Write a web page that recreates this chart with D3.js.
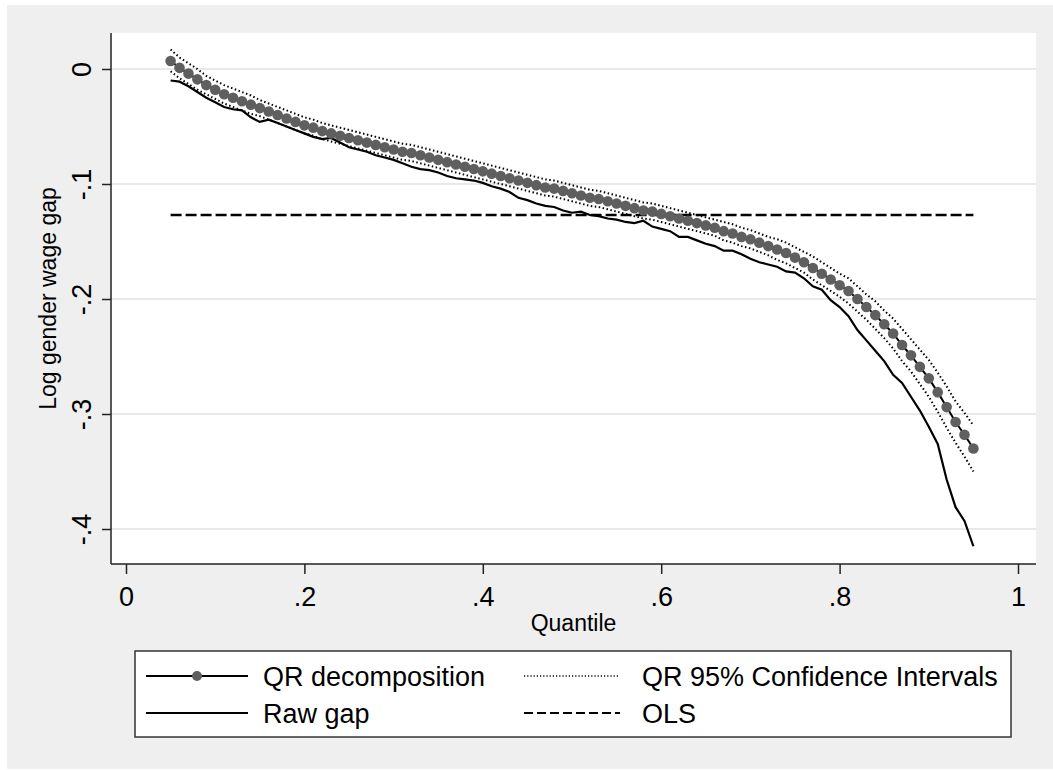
<!DOCTYPE html>
<html>
<head>
<meta charset="utf-8">
<script src="https://cdn.jsdelivr.net/npm/d3@7"></script>
<style>
  body { margin: 0; background: #fff; }
  svg { display: block; font-family: "Liberation Sans", Arial, sans-serif; }
</style>
</head>
<body>
<div id="chart"><svg></svg></div>
<script>
const width = 1053;
const height = 770;

// quantiles .05 ... .95
const quantiles = [0.05, 0.06, 0.07, 0.08, 0.09, 0.10, 0.11, 0.12, 0.13, 0.14,
  0.15, 0.16, 0.17, 0.18, 0.19, 0.20, 0.21, 0.22, 0.23, 0.24,
  0.25, 0.26, 0.27, 0.28, 0.29, 0.30, 0.31, 0.32, 0.33, 0.34,
  0.35, 0.36, 0.37, 0.38, 0.39, 0.40, 0.41, 0.42, 0.43, 0.44,
  0.45, 0.46, 0.47, 0.48, 0.49, 0.50, 0.51, 0.52, 0.53, 0.54,
  0.55, 0.56, 0.57, 0.58, 0.59, 0.60, 0.61, 0.62, 0.63, 0.64,
  0.65, 0.66, 0.67, 0.68, 0.69, 0.70, 0.71, 0.72, 0.73, 0.74,
  0.75, 0.76, 0.77, 0.78, 0.79, 0.80, 0.81, 0.82, 0.83, 0.84,
  0.85, 0.86, 0.87, 0.88, 0.89, 0.90, 0.91, 0.92, 0.93, 0.94, 0.95];

const qrDecomp = [0.007, 0.001, -0.004, -0.009, -0.014, -0.018, -0.022, -0.025, -0.028, -0.031,
  -0.034, -0.037, -0.040, -0.043, -0.046, -0.049, -0.051, -0.054, -0.056, -0.058,
  -0.060, -0.062, -0.064, -0.066, -0.068, -0.070, -0.072, -0.073, -0.075, -0.077,
  -0.079, -0.081, -0.083, -0.085, -0.087, -0.089, -0.091, -0.093, -0.095, -0.097,
  -0.099, -0.101, -0.103, -0.104, -0.106, -0.108, -0.110, -0.112, -0.113, -0.115,
  -0.117, -0.119, -0.121, -0.123, -0.124, -0.126, -0.128, -0.130, -0.132, -0.134,
  -0.136, -0.138, -0.141, -0.143, -0.146, -0.148, -0.151, -0.154, -0.157, -0.160,
  -0.164, -0.168, -0.173, -0.178, -0.183, -0.188, -0.193, -0.200, -0.207, -0.214,
  -0.222, -0.230, -0.240, -0.249, -0.259, -0.269, -0.281, -0.294, -0.307, -0.318, -0.330];

const ciUpper = [0.017, 0.010, 0.005, 0.000, -0.006, -0.010, -0.014, -0.017, -0.020, -0.023,
  -0.027, -0.030, -0.033, -0.036, -0.039, -0.042, -0.044, -0.047, -0.049, -0.051,
  -0.053, -0.055, -0.057, -0.059, -0.061, -0.063, -0.065, -0.066, -0.068, -0.070,
  -0.072, -0.074, -0.076, -0.078, -0.080, -0.082, -0.084, -0.086, -0.088, -0.090,
  -0.092, -0.094, -0.096, -0.097, -0.099, -0.101, -0.103, -0.105, -0.106, -0.108,
  -0.110, -0.112, -0.114, -0.116, -0.117, -0.119, -0.121, -0.123, -0.125, -0.127,
  -0.129, -0.131, -0.133, -0.135, -0.138, -0.140, -0.143, -0.146, -0.148, -0.151,
  -0.155, -0.159, -0.163, -0.168, -0.173, -0.178, -0.182, -0.189, -0.196, -0.202,
  -0.210, -0.217, -0.226, -0.235, -0.244, -0.253, -0.264, -0.276, -0.289, -0.299, -0.310];

const ciLower = [-0.002, -0.008, -0.013, -0.018, -0.022, -0.026, -0.030, -0.033, -0.036, -0.039,
  -0.041, -0.044, -0.047, -0.050, -0.053, -0.056, -0.058, -0.061, -0.063, -0.065,
  -0.067, -0.069, -0.071, -0.073, -0.075, -0.077, -0.079, -0.080, -0.082, -0.084,
  -0.086, -0.088, -0.090, -0.092, -0.094, -0.096, -0.098, -0.100, -0.102, -0.104,
  -0.106, -0.108, -0.110, -0.111, -0.113, -0.115, -0.117, -0.119, -0.120, -0.122,
  -0.124, -0.126, -0.128, -0.130, -0.131, -0.133, -0.135, -0.137, -0.139, -0.141,
  -0.143, -0.145, -0.149, -0.151, -0.154, -0.156, -0.159, -0.162, -0.166, -0.169,
  -0.173, -0.177, -0.183, -0.188, -0.193, -0.198, -0.204, -0.211, -0.218, -0.226,
  -0.234, -0.243, -0.254, -0.263, -0.274, -0.285, -0.298, -0.312, -0.325, -0.337, -0.350];

const rawGap = [-0.010, -0.011, -0.015, -0.020, -0.025, -0.029, -0.033, -0.035, -0.036, -0.042,
  -0.046, -0.044, -0.047, -0.050, -0.053, -0.056, -0.059, -0.061, -0.060, -0.064,
  -0.068, -0.070, -0.072, -0.075, -0.077, -0.079, -0.082, -0.085, -0.087, -0.088,
  -0.090, -0.093, -0.095, -0.096, -0.097, -0.099, -0.102, -0.104, -0.107, -0.112,
  -0.114, -0.117, -0.119, -0.120, -0.123, -0.125, -0.124, -0.127, -0.128, -0.130,
  -0.131, -0.133, -0.134, -0.132, -0.137, -0.139, -0.141, -0.146, -0.146, -0.149,
  -0.152, -0.154, -0.158, -0.158, -0.161, -0.165, -0.168, -0.170, -0.172, -0.176,
  -0.177, -0.182, -0.189, -0.192, -0.201, -0.207, -0.215, -0.227, -0.236, -0.245,
  -0.254, -0.266, -0.273, -0.285, -0.297, -0.311, -0.326, -0.357, -0.381, -0.393, -0.415];

const olsGap = -0.127;

const xTicks = [0, 0.2, 0.4, 0.6, 0.8, 1];
const xTickLabels = ["0", ".2", ".4", ".6", ".8", "1"];
const yTicks = [0, -0.1, -0.2, -0.3, -0.4];
const yTickLabels = ["0", "-.1", "-.2", "-.3", "-.4"];

const legendLabels = ["QR decomposition", "QR 95% Confidence Intervals", "Raw gap", "OLS"];

const svg = d3.select("#chart svg")
    .attr("width", width)
    .attr("height", height);

const plot = { left: 111, right: 1036, top: 33, bottom: 564 };

const xScale = d3.scaleLinear().domain([0, 1]).range([126, 1018]);
const yScale = d3.scaleLinear().domain([0, -0.4]).range([69, 529]);

// background
svg.append("rect")
    .attr("x", 7).attr("y", 5)
    .attr("width", width - 7).attr("height", 764)
    .attr("fill", "#efefef");

svg.append("rect")
    .attr("x", plot.left).attr("y", plot.top)
    .attr("width", plot.right - plot.left).attr("height", plot.bottom - plot.top)
    .attr("fill", "#fff");

// gridlines
svg.append("g")
    .selectAll("line")
    .data(yTicks)
    .enter()
    .append("line")
    .attr("x1", plot.left).attr("x2", plot.right)
    .attr("y1", d => yScale(d)).attr("y2", d => yScale(d))
    .attr("stroke", "#e8e8e8")
    .attr("stroke-width", 2);

// axes
const xAxis = svg.append("g")
    .attr("transform", `translate(0, ${plot.bottom})`)
    .call(d3.axisBottom(xScale).tickValues(xTicks).tickSize(10).tickPadding(13)
        .tickFormat((d, i) => xTickLabels[i]));
xAxis.select(".domain").attr("d", `M${plot.left},0H${plot.right}`);

const yAxis = svg.append("g")
    .attr("transform", `translate(${plot.left}, 0)`)
    .call(d3.axisLeft(yScale).tickValues(yTicks).tickSize(9)
        .tickFormat((d, i) => yTickLabels[i]));
yAxis.select(".domain").attr("d", `M0,${plot.top}V${plot.bottom}`);

svg.selectAll(".domain, .tick line")
    .attr("stroke", "#222")
    .attr("stroke-width", 1.5);

xAxis.selectAll("text")
    .attr("font-size", "27px")
    .attr("font-family", "Liberation Sans, Arial, sans-serif")
    .attr("fill", "#000");

// rotated y labels, centred on each tick
yAxis.selectAll(".tick text")
    .attr("font-size", "27px")
    .attr("font-family", "Liberation Sans, Arial, sans-serif")
    .attr("fill", "#000")
    .attr("text-anchor", "middle")
    .attr("transform", "rotate(-90)")
    .attr("x", 0)
    .attr("y", -20)
    .attr("dy", 0);

// series
const pts = arr => quantiles.map((q, i) => [q, arr[i]]);
const line = d3.line().x(d => xScale(d[0])).y(d => yScale(d[1]));

// OLS
svg.append("line")
    .attr("x1", xScale(quantiles[0]))
    .attr("x2", xScale(quantiles[quantiles.length - 1]))
    .attr("y1", yScale(olsGap)).attr("y2", yScale(olsGap))
    .attr("stroke", "#000")
    .attr("stroke-width", 2.5)
    .attr("stroke-dasharray", "11,4");

// CI
[ciUpper, ciLower].forEach(arr => {
    svg.append("path")
        .datum(pts(arr))
        .attr("fill", "none")
        .attr("stroke", "#000")
        .attr("stroke-width", 2)
        .attr("stroke-dasharray", "1.5,2.5")
        .attr("d", line);
});

// raw gap
svg.append("path")
    .datum(pts(rawGap))
    .attr("fill", "none")
    .attr("stroke", "#000")
    .attr("stroke-width", 2.2)
    .attr("d", line);

// QR decomposition
svg.append("path")
    .datum(pts(qrDecomp))
    .attr("fill", "none")
    .attr("stroke", "#000")
    .attr("stroke-width", 2)
    .attr("d", line);

svg.append("g")
    .selectAll("circle")
    .data(pts(qrDecomp))
    .enter()
    .append("circle")
    .attr("cx", d => xScale(d[0]))
    .attr("cy", d => yScale(d[1]))
    .attr("r", 5.3)
    .attr("fill", "#5f5f5f");

// axis titles
svg.append("text")
    .attr("x", (plot.left + plot.right) / 2)
    .attr("y", 631)
    .attr("text-anchor", "middle")
    .attr("font-size", "23px")
    .text("Quantile");

svg.append("text")
    .attr("transform", `translate(56, ${(plot.top + plot.bottom) / 2}) rotate(-90)`)
    .attr("text-anchor", "middle")
    .attr("font-size", "23px")
    .text("Log gender wage gap");

// --- Legend ---
const legend = svg.append("g").attr("class", "legend");

legend.append("rect")
    .attr("x", 135).attr("y", 651)
    .attr("width", 876).attr("height", 86)
    .attr("fill", "#fff")
    .attr("stroke", "#333")
    .attr("stroke-width", 1.5);

const rows = [676, 713];
const cols = [{ x1: 146, x2: 248, tx: 263 }, { x1: 524, x2: 620, tx: 642 }];

// QR decomposition
legend.append("line")
    .attr("x1", cols[0].x1).attr("x2", cols[0].x2)
    .attr("y1", rows[0]).attr("y2", rows[0])
    .attr("stroke", "#000").attr("stroke-width", 2.2);
legend.append("circle")
    .attr("cx", (cols[0].x1 + cols[0].x2) / 2)
    .attr("cy", rows[0])
    .attr("r", 5)
    .attr("fill", "#5f5f5f");

// Raw gap
legend.append("line")
    .attr("x1", cols[0].x1).attr("x2", cols[0].x2)
    .attr("y1", rows[1]).attr("y2", rows[1])
    .attr("stroke", "#000").attr("stroke-width", 2.2);

// CI
legend.append("line")
    .attr("x1", cols[1].x1).attr("x2", cols[1].x2)
    .attr("y1", rows[0]).attr("y2", rows[0])
    .attr("stroke", "#000").attr("stroke-width", 1.5)
    .attr("stroke-dasharray", "1.2,2");

// OLS
legend.append("line")
    .attr("x1", cols[1].x1).attr("x2", cols[1].x2)
    .attr("y1", rows[1]).attr("y2", rows[1])
    .attr("stroke", "#000").attr("stroke-width", 2)
    .attr("stroke-dasharray", "9,4");

const legendText = [
    { x: cols[0].tx, y: rows[0], t: legendLabels[0] },
    { x: cols[1].tx, y: rows[0], t: legendLabels[1] },
    { x: cols[0].tx, y: rows[1], t: legendLabels[2] },
    { x: cols[1].tx, y: rows[1], t: legendLabels[3] }
];

legend.selectAll("text.lbl")
    .data(legendText)
    .enter()
    .append("text")
    .attr("class", "lbl")
    .attr("x", d => d.x)
    .attr("y", d => d.y)
    .attr("dy", ".36em")
    .attr("font-size", "27px")
    .text(d => d.t);
</script>
</body>
</html>
